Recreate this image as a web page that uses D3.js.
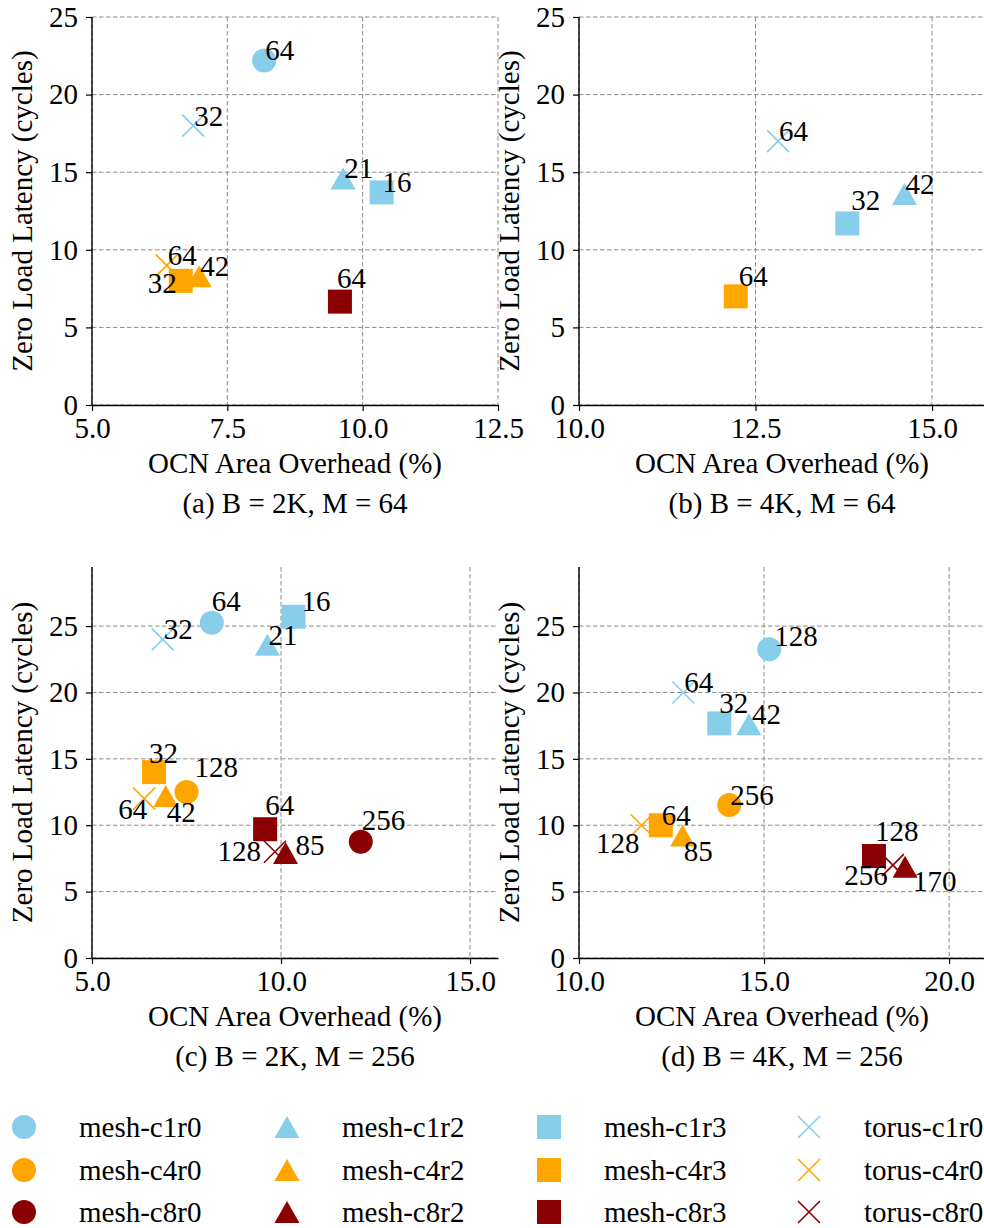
<!DOCTYPE html>
<html><head><meta charset="utf-8">
<script src="https://cdn.jsdelivr.net/npm/d3@7"></script>
<style>
body{margin:0;background:#fff}
svg{display:block}
text{font-family:"Liberation Serif","Times New Roman",serif;fill:#000}
</style>
</head><body>
<svg id="chart" width="984" height="1228"></svg>
<script>
// ---------- data ----------
const seriesNames = ["mesh-c1r0","mesh-c4r0","mesh-c8r0",
                     "mesh-c1r2","mesh-c4r2","mesh-c8r2",
                     "mesh-c1r3","mesh-c4r3","mesh-c8r3",
                     "torus-c1r0","torus-c4r0","torus-c8r0"];
const yTicks = [0,5,10,15,20,25];
const xTicksA = [5,7.5,10,12.5];
const xTicksB = [10,12.5,15];
const xTicksC = [5,10,15];
const xTicksD = [10,15,20];
const titles = ["(a) B = 2K, M = 64","(b) B = 4K, M = 64","(c) B = 2K, M = 256","(d) B = 4K, M = 256"];
const xLabel = "OCN Area Overhead (%)";
const yLabel = "Zero Load Latency (cycles)";

// [series, area overhead %, zero load latency, label]
const panelA = [
  ["mesh-c1r0",8.18,22.2,"64"],
  ["mesh-c1r2",9.64,14.6,"21"],
  ["mesh-c1r3",10.35,13.7,"16"],
  ["torus-c1r0",6.87,18.0,"32"],
  ["mesh-c4r2",6.98,8.3,"42"],
  ["mesh-c4r3",6.64,8.0,"32"],
  ["torus-c4r0",6.38,9.0,"64"],
  ["mesh-c8r3",9.58,6.66,"64"]
];
const panelB = [
  ["mesh-c1r2",14.61,13.6,"42"],
  ["mesh-c1r3",13.80,11.7,"32"],
  ["torus-c1r0",12.82,17.0,"64"],
  ["mesh-c4r3",12.22,7.0,"64"]
];
const panelC = [
  ["mesh-c1r0",8.17,25.25,"64"],
  ["mesh-c1r2",9.64,23.6,"21"],
  ["mesh-c1r3",10.33,25.7,"16"],
  ["torus-c1r0",6.87,24.0,"32"],
  ["mesh-c4r0",7.50,12.5,"128"],
  ["mesh-c4r2",6.95,12.2,"42"],
  ["mesh-c4r3",6.64,14.0,"32"],
  ["torus-c4r0",6.38,12.0,"64"],
  ["mesh-c8r0",12.11,8.76,"256"],
  ["mesh-c8r2",10.12,7.9,"85"],
  ["mesh-c8r3",9.58,9.7,"64"],
  ["torus-c8r0",9.84,8.0,"128"]
];
const panelD = [
  ["mesh-c1r0",15.14,23.25,"128"],
  ["mesh-c1r2",14.59,17.6,"42"],
  ["mesh-c1r3",13.79,17.67,"32"],
  ["torus-c1r0",12.82,20.0,"64"],
  ["mesh-c4r0",14.06,11.52,"256"],
  ["mesh-c4r2",12.80,9.22,"85"],
  ["mesh-c4r3",12.21,10.0,"64"],
  ["torus-c4r0",11.69,10.0,"128"],
  ["mesh-c8r2",18.81,6.87,"170"],
  ["mesh-c8r3",17.97,7.68,"128"],
  ["torus-c8r0",18.48,7.0,"256"]
];

// ---------- label placement nudges (px) ----------
const nudgeA = {"mesh-c4r3":[-4,12,"end"],"mesh-c8r3":[-3,-14,"start"]};
const nudgeB = {"mesh-c1r3":[4,-13,"start"],"mesh-c4r3":[3,-10,"start"]};
const nudgeC = {"mesh-c1r0":[0,-12,"start"],"mesh-c1r3":[8,-6,"start"],"mesh-c4r3":[-5,-9,"start"],
  "mesh-c4r0":[8,-15,"start"],"torus-c4r0":[3,20,"end"],"mesh-c4r2":[1,26,"start"],
  "mesh-c8r3":[0,-14,"start"],"torus-c8r0":[-14,9,"end"],"mesh-c8r2":[10,2,"start"],"mesh-c8r0":[1,-12,"start"]};
const nudgeD = {"mesh-c1r0":[5,-3,"start"],"mesh-c1r3":[0,-10,"start"],"mesh-c1r2":[3,0,"start"],
  "torus-c4r0":[-2,28,"end"],"mesh-c4r2":[1,25,"start"],"mesh-c8r3":[1,-15,"start"],
  "torus-c8r0":[-5,20,"end"],"mesh-c8r2":[8,24,"start"]};

// ---------- styles ----------
const colorOf = s => s.includes("c1") ? "#87CEEB" : s.includes("c4") ? "#FFA500" : "#8B0000";
const shapeOf = s => s.startsWith("torus") ? "x" : s.endsWith("r0") ? "circle" : s.endsWith("r2") ? "triangle" : "square";
const FS = 29;

const panels = [
  {title:titles[0],data:panelA,nudge:nudgeA,xd:[5,12.5],xt:xTicksA,yd:[0,25],left:92,top:17,w:406,h:388},
  {title:titles[1],data:panelB,nudge:nudgeB,xd:[10,15.75],xt:xTicksB,yd:[0,25],left:579,top:17,w:406,h:388},
  {title:titles[2],data:panelC,nudge:nudgeC,xd:[5,15.74],xt:xTicksC,yd:[0,29.45],left:92,top:567,w:406,h:391},
  {title:titles[3],data:panelD,nudge:nudgeD,xd:[10,20.97],xt:xTicksD,yd:[0,29.45],left:579,top:567,w:406,h:391}
];

const svg = d3.select("#chart");

function drawMarker(g, shape, color){
  if(shape==="circle"){
    g.append("circle").attr("r",12).attr("fill",color);
  } else if(shape==="square"){
    g.append("rect").attr("x",-12).attr("y",-12).attr("width",24).attr("height",24).attr("fill",color);
  } else if(shape==="triangle"){
    g.append("path").attr("d","M0,-11L12.5,11L-12.5,11Z").attr("fill",color);
  } else {
    g.append("path").attr("d","M-11,-11L11,11M-11,11L11,-11").attr("stroke",color).attr("stroke-width",1.6).attr("fill","none");
  }
}

const order = ["circle","triangle","square","x"];

panels.forEach(p=>{
  const g = svg.append("g").attr("transform",`translate(${p.left},${p.top})`);
  const x = d3.scaleLinear().domain(p.xd).range([0,p.w]);
  const y = d3.scaleLinear().domain(p.yd).range([p.h,0]);

  // grid
  const grid = g.append("g");
  grid.selectAll("line.gx").data(p.xt).join("line")
    .attr("x1",d=>x(d)).attr("x2",d=>x(d)).attr("y1",0).attr("y2",p.h)
    .attr("stroke","#8a8a8a").attr("stroke-width",1).attr("stroke-dasharray","4.5,2.5");
  grid.selectAll("line.gy").data(yTicks).join("line")
    .attr("x1",0).attr("x2",p.w).attr("y1",d=>y(d)).attr("y2",d=>y(d))
    .attr("stroke","#8a8a8a").attr("stroke-width",1).attr("stroke-dasharray","4.5,2.5");

  // axes
  const ax = g.append("g").attr("transform",`translate(0,${p.h})`)
    .call(d3.axisBottom(x).tickValues(p.xt).tickFormat(d3.format(".1f")).tickSize(6).tickPadding(6).tickSizeOuter(0));
  const ay = g.append("g")
    .call(d3.axisLeft(y).tickValues(yTicks).tickFormat(d3.format("d")).tickSize(6).tickPadding(8).tickSizeOuter(0));
  [ax,ay].forEach(a=>{
    a.select(".domain").attr("stroke","#000").attr("stroke-width",1.4);
    a.selectAll(".tick line").attr("stroke","#000").attr("stroke-width",1.2);
    a.selectAll(".tick text").attr("font-size",FS).attr("font-family","Liberation Serif, serif").attr("fill","#000");
  });
  ay.select(".domain").attr("d",`M0,0V${p.h}`);

  // points
  const pts = p.data.map(d=>({s:d[0],x:d[1],y:d[2],label:d[3]}));
  pts.sort((a,b)=>order.indexOf(shapeOf(a.s))-order.indexOf(shapeOf(b.s)));
  pts.forEach(d=>{
    const mg = g.append("g").attr("transform",`translate(${x(d.x)},${y(d.y)})`);
    drawMarker(mg, shapeOf(d.s), colorOf(d.s));
  });
  pts.forEach(d=>{
    const n = p.nudge[d.s] || [1,0,"start"];
    g.append("text").attr("x",x(d.x)+n[0]).attr("y",y(d.y)+n[1])
      .attr("text-anchor",n[2]).attr("font-size",FS).text(d.label);
  });

  // labels
  g.append("text").attr("x",p.w/2).attr("y",p.h+68).attr("text-anchor","middle").attr("font-size",FS).text(xLabel);
  g.append("text").attr("x",p.w/2).attr("y",p.h+108).attr("text-anchor","middle").attr("font-size",FS).text(p.title);
  g.append("text").attr("transform",`translate(-60,${p.h/2}) rotate(-90)`).attr("text-anchor","middle").attr("font-size",FS).text(yLabel);
});

// legend (column-major, 4 columns x 3 rows)
const legX = [24,287,549,809];
const legY = [1127,1170,1212];
seriesNames.forEach((s,i)=>{
  const col = Math.floor(i/3), row = i%3;
  const lg = svg.append("g").attr("transform",`translate(${legX[col]},${legY[row]})`);
  drawMarker(lg, shapeOf(s), colorOf(s));
  lg.append("text").attr("x",55).attr("y",10).attr("font-size",FS).text(s);
});
</script>
</body></html>
